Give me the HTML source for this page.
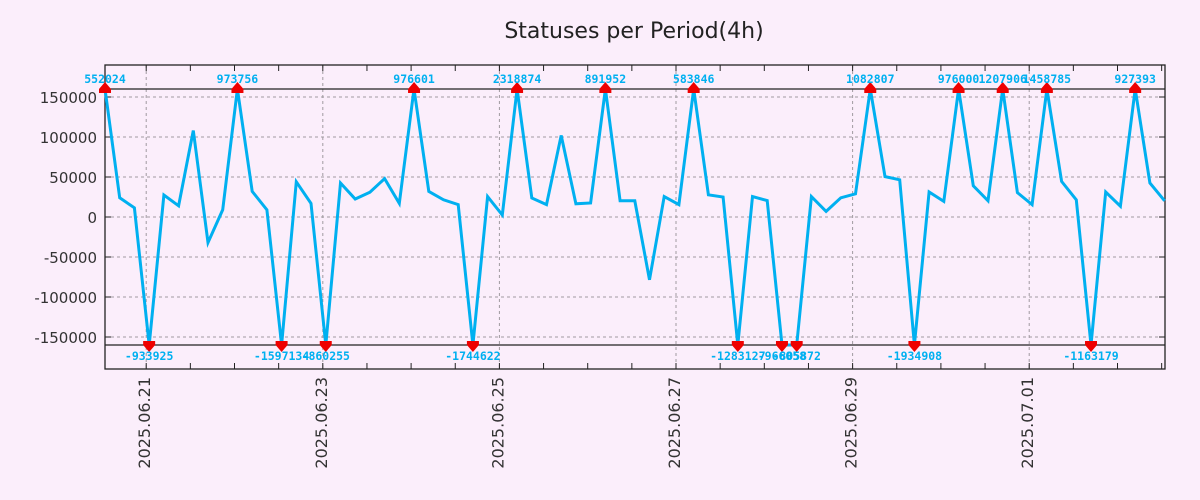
<!DOCTYPE html>
<html><head><meta charset="utf-8"><style>
html,body{margin:0;padding:0;background:#fbeefb;}
svg{display:block;}
</style></head><body>
<svg id="chart" width="1200" height="500" xmlns="http://www.w3.org/2000/svg">
<rect x="0" y="0" width="1200" height="500" fill="#fbeefb"/>
<text x="634" y="38" text-anchor="middle" font-family="'DejaVu Sans','Liberation Sans',sans-serif" font-size="22" fill="#222">Statuses per Period(4h)</text>
<g id="grid"></g>
<g id="axes"></g>
<g id="series"></g>
<g id="marks"></g>
</svg>
<script>
// ---- data ----
const values = [552024,24000,11500,-933925,27500,14000,108000,-32000,9000,973756,32000,9000,-1597134,44000,17000,-860255,42500,22500,31000,48000,17000,976601,32000,21500,15500,-1744622,25500,2500,2318874,23700,15500,102000,16500,17500,891952,20300,20300,-78500,25500,15500,583846,27800,25000,-1283127,25500,20500,-966058,-805872,25500,7000,24000,29000,1082807,50500,46500,-1934908,31200,19500,976000,39000,20300,1207906,30500,15500,1458785,44500,21500,-1163179,31200,13500,927393,42500,20300];
const yTicks = [-150000,-100000,-50000,0,50000,100000,150000];
const dayLabels = ["2025.06.21","2025.06.23","2025.06.25","2025.06.27","2025.06.29","2025.07.01"];
const dayIndex = [2.8,14.8,26.8,38.8,50.8,62.8]; // period index of each labelled day
const clipMax = 160000, clipMin = -160000;

// ---- layout ----
const L=105,R=1165,T=65,B=369, yMin=-190000,yMax=190000;
const nPts = values.length;
const X = i => L + (R-0.4-L)*i/(nPts-1);
const Y = v => B - (v-yMin)/(yMax-yMin)*(B-T);
const NS="http://www.w3.org/2000/svg";
function mk(tag,attrs,parent){const e=document.createElementNS(NS,tag);for(const k in attrs)e.setAttribute(k,attrs[k]);parent.appendChild(e);return e;}
const grid=document.getElementById('grid'),axes=document.getElementById('axes'),series=document.getElementById('series'),marks=document.getElementById('marks');

// y grid + labels
yTicks.forEach(v=>{
  const y=Y(v);
  const g=mk('line',{x1:L,x2:R,y1:y,y2:y,stroke:'#a09aa0','stroke-width':1,'stroke-dasharray':'3,3'},grid);
  
  
  mk('line',{x1:L,x2:L+6,y1:y,y2:y,stroke:'#222'},axes);
  mk('line',{x1:R-6,x2:R,y1:y,y2:y,stroke:'#222'},axes);
  const t=mk('text',{x:97,y:y+6,'text-anchor':'end','font-family':"'DejaVu Sans','Liberation Sans',sans-serif",'font-size':15,fill:'#333'},axes);
  t.textContent=v;
  
  
});
// x grid (days), minor ticks every 12h
dayLabels.forEach((d,k)=>{
  const x=X(dayIndex[k]);
  const g=mk('line',{x1:x,x2:x,y1:T,y2:B,stroke:'#a09aa0','stroke-width':1,'stroke-dasharray':'3,3'},grid);
  
  
  const t=mk('text',{x:0,y:0,transform:`translate(${x+4},377) rotate(-90)`,'text-anchor':'end','font-family':"'DejaVu Sans','Liberation Sans',sans-serif",'font-size':16,fill:'#333'},axes);
  t.textContent=d;
  
  
});
for(let h=dayIndex[0]-3; h<=nPts-1; h+=3){
  const x=X(h); if(x<L||x>R) continue;
  mk('line',{x1:x,x2:x,y1:B,y2:B-6,stroke:'#222'},axes);
  mk('line',{x1:x,x2:x,y1:T,y2:T+6,stroke:'#222'},axes);
}
// border & clip lines
const bd=mk('rect',{x:L,y:T,width:R-L,height:B-T,fill:'none',stroke:'#222','stroke-width':1.3},axes);


[clipMax,clipMin].forEach(v=>{
  const l=mk('line',{x1:L,x2:R,y1:Y(v),y2:Y(v),stroke:'#222','stroke-width':1.2},axes);
  
  
});
// series line
const pts=values.map((v,i)=>X(i).toFixed(1)+','+Y(Math.max(clipMin,Math.min(clipMax,v))).toFixed(1)).join(' ');
const pl=mk('polyline',{points:pts,fill:'none',stroke:'#00b0f0','stroke-width':3,'stroke-linejoin':'miter'},series);


// clip markers and labels
values.forEach((v,i)=>{
  if(v<=clipMax && v>=clipMin) return;
  const x=X(i), up=v>clipMax, y=Y(up?clipMax:clipMin);
  const tri = up ? `${x-6},${y+4} ${x+6},${y+4} ${x+6},${y} ${x},${y-7} ${x-6},${y}` : `${x-6},${y-4} ${x+6},${y-4} ${x+6},${y} ${x},${y+7} ${x-6},${y}`;
  const m=mk('polygon',{points:tri,fill:'#ee0000'},marks);
  
  
  const t=mk('text',{x:x,y:up?y-6:y+15,'text-anchor':'middle','font-family':"'DejaVu Sans Mono','Liberation Mono',monospace",'font-weight':'bold','font-size':11.5,fill:'#00b0f0'},marks);
  t.textContent=v;
  
  
});
</script>
</body></html>
